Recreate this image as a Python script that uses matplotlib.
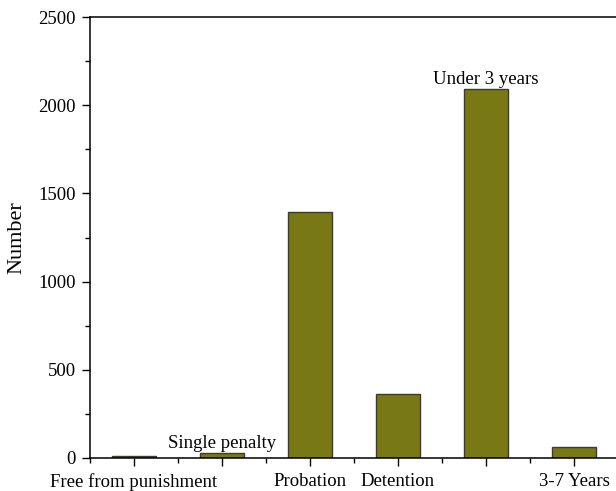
import matplotlib.pyplot as plt
import numpy as np
from matplotlib.ticker import MultipleLocator

# data
categories = ['Free from punishment', 'Single penalty', 'Probation',
              'Detention', 'Under 3 years', '3-7 Years']
counts = [12, 28, 1395, 363, 2092, 62]
# labels drawn under the axis; the other two sit on top of their bars
tick_labels = ['Free from punishment', '', 'Probation', 'Detention', '', '3-7 Years']
top_labels = {1: 'Single penalty', 4: 'Under 3 years'}

plt.rcParams['font.family'] = ['Liberation Serif', 'DejaVu Serif']
plt.rcParams['font.size'] = 13.5

fig = plt.figure(figsize=(6.16, 4.91), dpi=100)
ax = fig.add_axes([90 / 616, 1 - 458 / 491, 528 / 616, 441 / 491])

x = np.arange(len(categories))
ax.bar(x, counts, width=0.5, color='#787814', edgecolor='#3a3a3a', linewidth=1.0)

for i, txt in top_labels.items():
    ax.annotate(txt, (x[i], counts[i]), xytext=(0, 1), textcoords='offset points',
                ha='center', va='bottom', fontsize=13.5)

ax.set_xlim(-0.5, len(categories) - 0.5)
ax.set_ylim(0, 2500)
ax.set_xticks(x)
ax.set_xticklabels(tick_labels)
ax.set_xticks(np.arange(-0.5, len(categories), 1.0), minor=True)
ax.yaxis.set_major_locator(MultipleLocator(500))
ax.yaxis.set_minor_locator(MultipleLocator(250))
ax.tick_params(axis='both', which='major', direction='out', length=6, width=1)
ax.tick_params(axis='both', which='minor', direction='out', length=3.5, width=1)
ax.tick_params(axis='x', pad=5)
ax.tick_params(axis='y', pad=4)
ax.set_ylabel('Number', fontsize=16, labelpad=9)

for s in ax.spines.values():
    s.set_linewidth(1.1)

fig.savefig('out.png', dpi=100)
